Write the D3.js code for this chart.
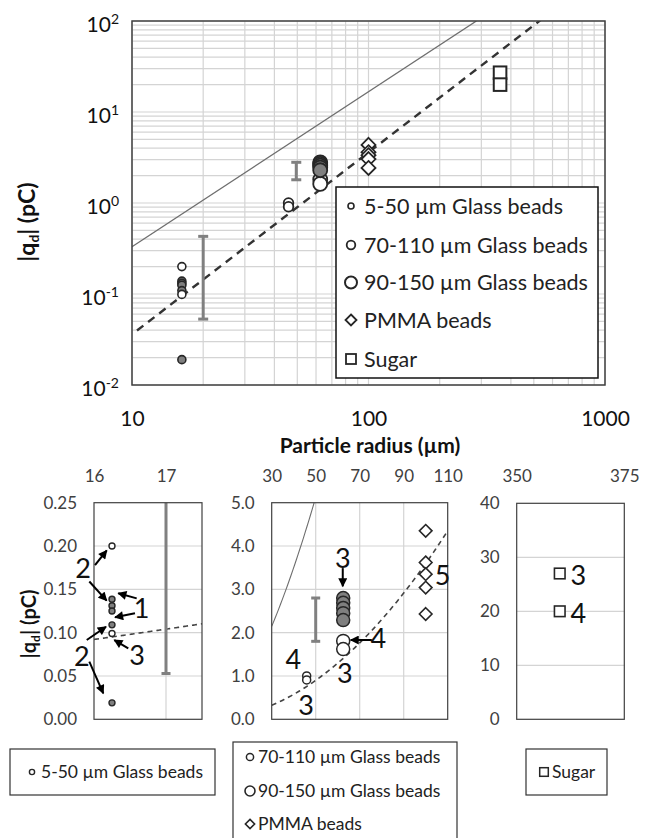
<!DOCTYPE html>
<html><head><meta charset="utf-8">
<script src="https://cdn.jsdelivr.net/npm/d3@7"></script>
<style>body{margin:0;background:#fff} svg{display:block} text{font-family:Lato,'Open Sans',sans-serif}</style>
</head><body><svg id="c" width="654" height="838"></svg>
<script>
// ---------------- DATA ----------------
const glass5_50_r = 16.25;
const glass5_50_q = [0.200, 0.1385, 0.131, 0.125, 0.109, 0.099, 0.019];
const glass5_50_filled = [false, true, true, true, true, false, true];
const glass70_110_r = 45.9;
const glass70_110_q = [1.00, 0.91];
const glass90_150_r = 62.5;
const glass90_150_q = [1.81, 1.62, 2.80, 2.69, 2.57, 2.45, 2.29];
const glass90_150_filled = [false, false, true, true, true, true, true];
const pmma_r = 100;
const pmma_q = [4.35, 3.62, 3.35, 3.04, 2.43];
const sugar_r = 360;
const sugar_q = [27, 20];
const errorBarR = [20, 49.5];
const errorBarRInset = [17, 50];
const errorBarLo = [0.053, 1.8];
const errorBarHi = [0.43, 2.8];
const solidLineR = [10, 286];
const solidLineQ = [0.33, 100];
const dashedLineR = [10.5, 550];
const dashedLineQ = [0.0397, 108.7];
const topXTicks = [10, 100, 1000];
const topYTicks = [0.01, 0.1, 1, 10, 100];
const legendLabels = ["5-50 µm Glass beads", "70-110 µm Glass beads", "90-150 µm Glass beads", "PMMA beads", "Sugar"];
const inset1XTicks = [16, 17], inset1YTicks = [0, 0.05, 0.10, 0.15, 0.20, 0.25];
const inset2XTicks = [30, 50, 70, 90, 110], inset2YTicks = [0, 1, 2, 3, 4, 5];
const inset3XTicks = [350, 375], inset3YTicks = [0, 10, 20, 30, 40];
const inset1Labels = [["2", 15.85, 0.1746], ["1", 16.66, 0.128], ["2", 15.83, 0.0722], ["3", 16.60, 0.0742]];
const inset1Arrows = [[16.014, 0.178, 16.177, 0.195], [15.935, 0.159, 16.176, 0.137], [16.593, 0.1396, 16.337, 0.1454],
  [16.569, 0.1223, 16.292, 0.1177], [15.899, 0.0915, 16.167, 0.1068], [15.935, 0.0665, 16.129, 0.030], [16.476, 0.0819, 16.282, 0.0915]];
const inset2Labels = [["3", 62.3, 3.72], ["4", 78.5, 1.87], ["3", 63.3, 1.06], ["4", 39.8, 1.385], ["3", 45.6, 0.33], ["5", 107.7, 3.33]];
const inset2Arrows = [[62.3, 3.49, 62.3, 3.07], [75.5, 1.83, 65.9, 1.83]];
const inset3Labels = [["3", 364.3, 26.7], ["4", 364.3, 19.6]];

// ---------------- HELPERS ----------------
const svg = d3.select("#c");
svg.append("rect").attr("width", 654).attr("height", 838).attr("fill", "#fff");
const defs = svg.append("defs");
defs.append("marker").attr("id", "arrow").attr("viewBox", "0 0 10 10").attr("refX", 9).attr("refY", 5)
  .attr("markerWidth", 10).attr("markerHeight", 9).attr("markerUnits", "userSpaceOnUse").attr("orient", "auto")
  .append("path").attr("d", "M0,0L10,5L0,10z").attr("fill", "#000");

function powerLine(R, Q) {
  const b = Math.log(Q[1] / Q[0]) / Math.log(R[1] / R[0]);
  return r => Q[0] * Math.pow(r / R[0], b);
}
const solidF = powerLine(solidLineR, solidLineQ);
const dashedF = powerLine(dashedLineR, dashedLineQ);
const GRID = "#d4d4d4", FRAME = "#404040", MARK = "#262626", GRAYFILL = "#7f7f7f", EBAR = "#808080";

function drawCircle(g, cx, cy, r, filled, sw) {
  g.append("circle").attr("cx", cx).attr("cy", cy).attr("r", r)
    .attr("fill", filled ? GRAYFILL : "#fff").attr("stroke", MARK).attr("stroke-width", sw);
}
function drawDiamond(g, cx, cy, h, sw) {
  g.append("path").attr("d", `M${cx},${cy - h}L${cx + h},${cy}L${cx},${cy + h}L${cx - h},${cy}Z`)
    .attr("fill", "#fff").attr("stroke", MARK).attr("stroke-width", sw);
}
function drawSquare(g, cx, cy, h, sw) {
  g.append("rect").attr("x", cx - h).attr("y", cy - h).attr("width", 2 * h).attr("height", 2 * h)
    .attr("fill", "#fff").attr("stroke", MARK).attr("stroke-width", sw);
}
function drawErrorBar(g, x, y1, y2, cap, w) {
  g.append("line").attr("x1", x).attr("x2", x).attr("y1", y1).attr("y2", y2).attr("stroke", EBAR).attr("stroke-width", w);
  [y1, y2].forEach(yy => g.append("line").attr("x1", x - cap).attr("x2", x + cap).attr("y1", yy).attr("y2", yy)
    .attr("stroke", EBAR).attr("stroke-width", w));
}

// ---------------- TOP CHART ----------------
const T = {l: 132, r: 605, t: 21, b: 385};
const x = d3.scaleLog().domain([10, 1000]).range([T.l, T.r]);
const y = d3.scaleLog().domain([0.01, 100]).range([T.b, T.t]);
const gTop = svg.append("g");
defs.append("clipPath").attr("id", "clipTop").append("rect")
  .attr("x", T.l).attr("y", T.t).attr("width", T.r - T.l).attr("height", T.b - T.t);

gTop.append("g").selectAll("line").data(x.ticks()).join("line")
  .attr("x1", d => x(d)).attr("x2", d => x(d)).attr("y1", T.t).attr("y2", T.b).attr("stroke", GRID).attr("stroke-width", 1.2);
gTop.append("g").selectAll("line").data(y.ticks()).join("line")
  .attr("y1", d => y(d)).attr("y2", d => y(d)).attr("x1", T.l).attr("x2", T.r).attr("stroke", GRID).attr("stroke-width", 1.2);

// axes labels
const gx = gTop.append("g").attr("transform", `translate(0,${T.b})`)
  .call(d3.axisBottom(x).tickValues(topXTicks).tickSize(0).tickPadding(26).tickFormat(d3.format("d")));
gx.select(".domain").remove();
gx.selectAll("text").attr("font-size", 21).attr("font-family", "Lato").attr("fill", "#111");
const gy = gTop.append("g").attr("transform", `translate(${T.l},0)`)
  .call(d3.axisLeft(y).tickValues(topYTicks).tickSize(0).tickPadding(13).tickFormat(""));
gy.select(".domain").remove();
gy.selectAll(".tick text").each(function (d) {
  const t = d3.select(this).attr("font-size", 21).attr("font-family", "Lato").attr("fill", "#111").attr("dy", "0.5em");
  t.append("tspan").text("10");
  t.append("tspan").attr("dy", "-0.6em").attr("font-size", 14).text(Math.round(Math.log10(d)));
});

// reference lines
const lineGen = d3.line().x(d => x(d[0])).y(d => y(d[1]));
gTop.append("path").attr("clip-path", "url(#clipTop)")
  .datum(solidLineR.map(r => [r, solidF(r)])).attr("d", lineGen)
  .attr("fill", "none").attr("stroke", "#6e6e6e").attr("stroke-width", 1.3);
gTop.append("path").attr("clip-path", "url(#clipTop)")
  .datum(dashedLineR.map(r => [r, dashedF(r)])).attr("d", lineGen)
  .attr("fill", "none").attr("stroke", "#333").attr("stroke-width", 2.4).attr("stroke-dasharray", "8,6");

// error bars
errorBarR.forEach((r, i) => drawErrorBar(gTop, x(r), y(errorBarLo[i]), y(errorBarHi[i]), 5, 3));

// points
glass5_50_q.forEach((q, i) => drawCircle(gTop, x(glass5_50_r), y(q), 4, glass5_50_filled[i], 1.6));
glass70_110_q.forEach(q => drawCircle(gTop, x(glass70_110_r), y(q), 4.8, false, 1.8));
glass90_150_q.forEach((q, i) => drawCircle(gTop, x(glass90_150_r), y(q), 7, glass90_150_filled[i], 1.8));
pmma_q.forEach(q => drawDiamond(gTop, x(pmma_r), y(q), 7, 1.8));
sugar_q.forEach(q => drawSquare(gTop, x(sugar_r), y(q), 6.3, 2));

// frame
gTop.append("rect").attr("x", T.l).attr("y", T.t).attr("width", T.r - T.l).attr("height", T.b - T.t)
  .attr("fill", "none").attr("stroke", FRAME).attr("stroke-width", 1.5);

// legend
const LG = {x: 336, y: 187, w: 262, h: 191};
gTop.append("rect").attr("x", LG.x).attr("y", LG.y).attr("width", LG.w).attr("height", LG.h)
  .attr("fill", "#fff").attr("stroke", "#111").attr("stroke-width", 1.5);
const legY = [206, 245, 282.5, 320, 359];
const legMarkers = [
  (g, cx, cy) => drawCircle(g, cx, cy, 3, false, 1.6),
  (g, cx, cy) => drawCircle(g, cx, cy, 4.3, false, 1.8),
  (g, cx, cy) => drawCircle(g, cx, cy, 6, false, 2),
  (g, cx, cy) => drawDiamond(g, cx, cy, 5.5, 1.8),
  (g, cx, cy) => drawSquare(g, cx, cy, 5, 1.8)
];
legendLabels.forEach((lab, i) => {
  legMarkers[i](gTop, 351, legY[i]);
  gTop.append("text").attr("x", 364).attr("y", legY[i]).attr("dy", "0.36em").attr("font-size", 21.5).attr("fill", "#222").text(lab);
});

// axis titles
gTop.append("text").attr("x", 370).attr("y", 453).attr("text-anchor", "middle").attr("font-size", 21)
  .attr("font-weight", "bold").attr("fill", "#111").text("Particle radius (µm)");
function qTitle(g, cx, cy, fs) {
  const t = g.append("text").attr("transform", `translate(${cx},${cy}) rotate(-90)`).attr("text-anchor", "middle")
    .attr("font-size", fs).attr("font-weight", "bold").attr("fill", "#111");
  t.append("tspan").text("|q");
  t.append("tspan").attr("font-size", fs * 0.6).attr("dy", "0.3em").text("d");
  t.append("tspan").attr("dy", "-0.18em").text("| (pC)");
}
qTitle(gTop, 35, 222, 23);

// ---------------- INSETS ----------------
function makeInset(o) {
  const g = svg.append("g");
  const sx = d3.scaleLinear().domain(o.xd).range([o.l, o.r]);
  const sy = d3.scaleLinear().domain(o.yd).range([o.b, o.t]);
  const cid = "clip" + o.id;
  defs.append("clipPath").attr("id", cid).append("rect").attr("x", o.l).attr("y", o.t).attr("width", o.r - o.l).attr("height", o.b - o.t);
  g.append("g").selectAll("line").data(o.yTicks.filter(v => v > o.yd[0] && v < o.yd[1])).join("line")
    .attr("x1", o.l).attr("x2", o.r).attr("y1", d => sy(d)).attr("y2", d => sy(d)).attr("stroke", GRID).attr("stroke-width", 1.2);
  g.append("g").selectAll("line").data(o.vGrid).join("line")
    .attr("y1", o.t).attr("y2", o.b).attr("x1", d => sx(d)).attr("x2", d => sx(d)).attr("stroke", GRID).attr("stroke-width", 1.2);
  const ax = g.append("g").attr("transform", `translate(0,${o.t})`)
    .call(d3.axisTop(sx).tickValues(o.xTicks).tickSize(0).tickPadding(21).tickFormat(d3.format("d")));
  ax.select(".domain").remove();
  ax.selectAll("text").attr("font-size", 17).attr("font-family", "Lato").attr("fill", "#404040");
  const ay = g.append("g").attr("transform", `translate(${o.l},0)`)
    .call(d3.axisLeft(sy).tickValues(o.yTicks).tickSize(0).tickPadding(17).tickFormat(d3.format(o.yFmt)));
  ay.select(".domain").remove();
  ay.selectAll("text").attr("font-size", 17).attr("font-family", "Lato").attr("fill", "#404040");
  return {g, sx, sy, cid};
}

function refCurves(P, o) {
  const rs = d3.range(0, 101).map(i => o.xd[0] + (o.xd[1] - o.xd[0]) * i / 100);
  const lg = d3.line().x(d => P.sx(d[0])).y(d => P.sy(d[1]));
  P.g.append("path").attr("clip-path", `url(#${P.cid})`).datum(rs.map(r => [r, solidF(r)])).attr("d", lg)
    .attr("fill", "none").attr("stroke", "#6e6e6e").attr("stroke-width", 1.1);
  P.g.append("path").attr("clip-path", `url(#${P.cid})`).datum(rs.map(r => [r, dashedF(r)])).attr("d", lg)
    .attr("fill", "none").attr("stroke", "#444").attr("stroke-width", 1.6).attr("stroke-dasharray", "5,4");
}
function frame(P, o) {
  P.g.append("rect").attr("x", o.l).attr("y", o.t).attr("width", o.r - o.l).attr("height", o.b - o.t)
    .attr("fill", "none").attr("stroke", FRAME).attr("stroke-width", 1.2);
}
function annotate(P, labels, arrows) {
  labels.forEach(([t, lx, ly]) => P.g.append("text").attr("x", P.sx(lx)).attr("y", P.sy(ly)).attr("dy", "0.36em")
    .attr("text-anchor", "middle").attr("font-family", "Liberation Sans").attr("font-size", 27).attr("fill", "#111").text(t));
  arrows.forEach(([x1, y1, x2, y2]) => P.g.append("line").attr("x1", P.sx(x1)).attr("y1", P.sy(y1))
    .attr("x2", P.sx(x2)).attr("y2", P.sy(y2)).attr("stroke", "#000").attr("stroke-width", 2).attr("marker-end", "url(#arrow)"));
}

// inset 1
const o1 = {id: 1, l: 94, r: 202, t: 502.7, b: 719.3, xd: [16, 17.5], yd: [0, 0.25], xTicks: inset1XTicks, yTicks: inset1YTicks, yFmt: ".2f", vGrid: [17]};
const P1 = makeInset(o1);
refCurves(P1, o1);
const eb1 = P1.g.append("g").attr("clip-path", `url(#${P1.cid})`);
drawErrorBar(eb1, P1.sx(errorBarRInset[0]), P1.sy(errorBarLo[0]), P1.sy(errorBarHi[0]), 4.5, 3);
glass5_50_q.forEach((q, i) => drawCircle(P1.g, P1.sx(glass5_50_r), P1.sy(q), 3, glass5_50_filled[i], 1.4));
frame(P1, o1);
annotate(P1, inset1Labels, inset1Arrows);
qTitle(P1.g, 36, 624, 20);

// inset 2
const o2 = {id: 2, l: 271.7, r: 447.7, t: 502.7, b: 719.3, xd: [30, 110], yd: [0, 5], xTicks: inset2XTicks, yTicks: inset2YTicks, yFmt: ".1f", vGrid: [50, 70, 90]};
const P2 = makeInset(o2);
refCurves(P2, o2);
drawErrorBar(P2.g, P2.sx(errorBarRInset[1]), P2.sy(errorBarLo[1]), P2.sy(errorBarHi[1]), 4.5, 3);
glass70_110_q.forEach(q => drawCircle(P2.g, P2.sx(glass70_110_r), P2.sy(q), 4, false, 1.5));
glass90_150_q.forEach((q, i) => drawCircle(P2.g, P2.sx(glass90_150_r), P2.sy(q), 6.5, glass90_150_filled[i], 1.5));
pmma_q.forEach(q => drawDiamond(P2.g, P2.sx(pmma_r), P2.sy(q), 6.3, 1.6));
frame(P2, o2);
annotate(P2, inset2Labels, inset2Arrows);

// inset 3
const o3 = {id: 3, l: 516.7, r: 624.3, t: 503.3, b: 719.3, xd: [350, 375], yd: [0, 40], xTicks: inset3XTicks, yTicks: inset3YTicks, yFmt: "d", vGrid: []};
const P3 = makeInset(o3);
refCurves(P3, o3);
sugar_q.forEach(q => drawSquare(P3.g, P3.sx(sugar_r), P3.sy(q), 5.3, 1.6));
frame(P3, o3);
annotate(P3, inset3Labels, []);

// bottom legends
const gL = svg.append("g");
function legBox(x0, y0, w, h) {
  gL.append("rect").attr("x", x0).attr("y", y0).attr("width", w).attr("height", h).attr("fill", "#fff").attr("stroke", "#333").attr("stroke-width", 1.2);
}
function legText(tx, ty, s) {
  gL.append("text").attr("x", tx).attr("y", ty).attr("dy", "0.36em").attr("font-size", 17.5).attr("fill", "#222").text(s);
}
legBox(10, 749, 205, 46);
drawCircle(gL, 32, 772, 2.6, false, 1.4); legText(41, 772, legendLabels[0]);
legBox(233, 742, 224, 110);
drawCircle(gL, 250, 757, 3.6, false, 1.5); legText(258, 757, legendLabels[1]);
drawCircle(gL, 250, 791, 5, false, 1.6); legText(258, 791, legendLabels[2]);
drawDiamond(gL, 250, 824, 4.6, 1.6); legText(258, 824, legendLabels[3]);
legBox(526, 749, 81, 46);
drawSquare(gL, 544, 772, 4.3, 1.5); legText(552, 772, legendLabels[4]);
</script></body></html>
